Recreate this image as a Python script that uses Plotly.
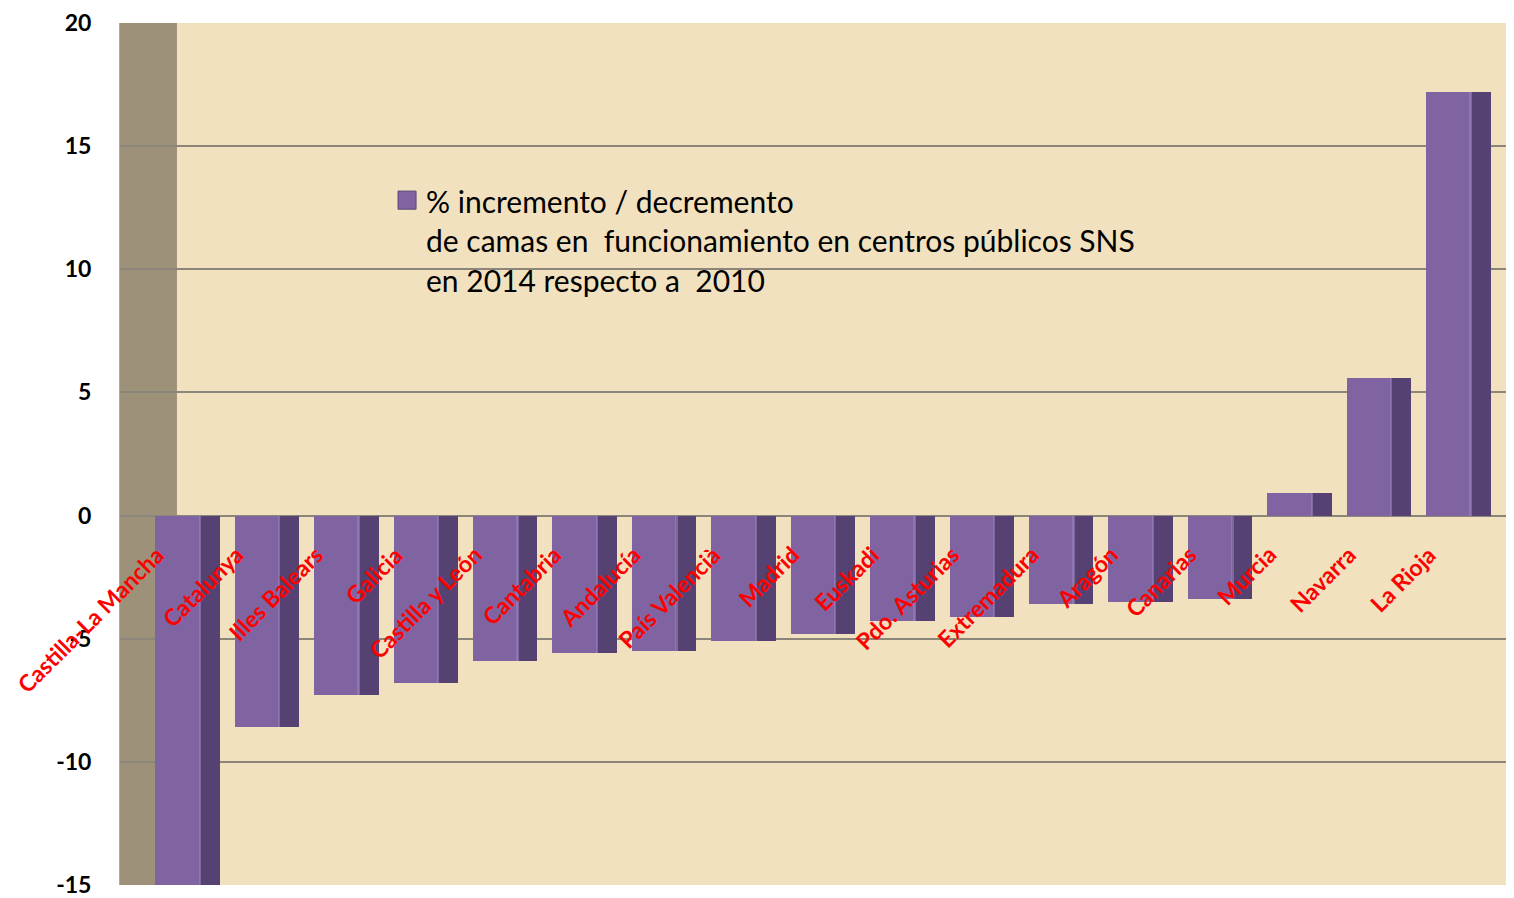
import plotly.graph_objects as go

# datos
regiones = ["Castilla-La Mancha", "Catalunya", "Illes Balears", "Galicia", "Castilla y León",
            "Cantabria", "Andalucía", "País Valencià", "Madrid", "Euskadi", "Pdo. Asturias",
            "Extremadura", "Aragón", "Canarias", "Murcia", "Navarra", "La Rioja"]
variacion = [-15.0, -8.6, -7.3, -6.8, -5.9, -5.6, -5.5, -5.1, -4.8, -4.3, -4.1,
             -3.6, -3.5, -3.4, 0.9, 5.6, 17.2]
y_ticks = [-15, -10, -5, 0, 5, 10, 15, 20]
leyenda = ["% incremento / decremento",
           "de camas en  funcionamiento en centros públicos SNS",
           "en 2014 respecto a  2010"]

pos = list(range(len(regiones)))
fondo = "#F2E1BF"
morado = "#8064A2"
morado_osc = "#564272"

fig = go.Figure()

# cara lateral oscura (efecto 3D)
fig.add_trace(go.Bar(x=pos, y=variacion, width=0.81, offset=-0.405,
                     marker=dict(color=morado_osc, line=dict(width=0)),
                     showlegend=False, hoverinfo="skip"))
# cara frontal
fig.add_trace(go.Bar(x=pos, y=variacion, width=0.56, offset=-0.405,
                     marker=dict(color=morado, line=dict(width=0)),
                     showlegend=False, name="variación"))
# brillo en la arista
fig.add_trace(go.Bar(x=pos, y=variacion, width=0.03, offset=0.14,
                     marker=dict(color="#9A80BD", line=dict(width=0), opacity=0.6),
                     showlegend=False, hoverinfo="skip"))

# etiquetas de categoría en rojo, giradas
for i, r in enumerate(regiones):
    fig.add_annotation(x=i, y=0, text=r, textangle=-45, showarrow=False,
                       xanchor="right", yanchor="top", xshift=-15, yshift=-22,
                       font=dict(family="Lato", size=23, color="#FF0000", weight="bold"))

# leyenda dibujada a mano (tres líneas)
for k, linea in enumerate(leyenda):
    fig.add_annotation(xref="paper", yref="paper", x=0.2193, y=0.794 - k * 0.0462,
                       text=linea, showarrow=False, xanchor="left", yanchor="middle",
                       font=dict(family="Lato", size=30, color="black"))
fig.add_shape(type="rect", xref="paper", yref="paper", x0=0.2006, x1=0.2136,
              y0=0.784, y1=0.805, fillcolor=morado, line=dict(color="#5A4578", width=1))

# pared lateral izquierda
fig.add_shape(type="rect", xref="paper", yref="paper", x0=0, x1=0.0411, y0=0, y1=1,
              fillcolor="#9E917A", line=dict(width=0), layer="below")

fig.update_layout(
    width=1498, height=890,
    margin=dict(l=112, r=0, t=15, b=13),
    paper_bgcolor="white",
    plot_bgcolor=fondo,
    barmode="overlay",
    bargap=0,
    showlegend=False,
    font=dict(family="Lato", color="black"),
    xaxis=dict(range=[-0.85, 16.6], showticklabels=False, showgrid=False,
               zeroline=False, showline=False),
    yaxis=dict(range=[-15, 20], tickvals=y_ticks, ticktext=[str(v) for v in y_ticks],
               showgrid=True, gridcolor="#8C8579", gridwidth=1.5, zeroline=True,
               zerolinecolor="#8C8579", zerolinewidth=1.5,
               showline=True, linecolor="#B0AAA0", mirror=True, linewidth=1,
               tickfont=dict(family="Lato", size=23, color="black", weight="bold"),
               ticklabelstandoff=23, ticklabeloverflow="allow", automargin=False),
)

fig.write_html("out.html")
